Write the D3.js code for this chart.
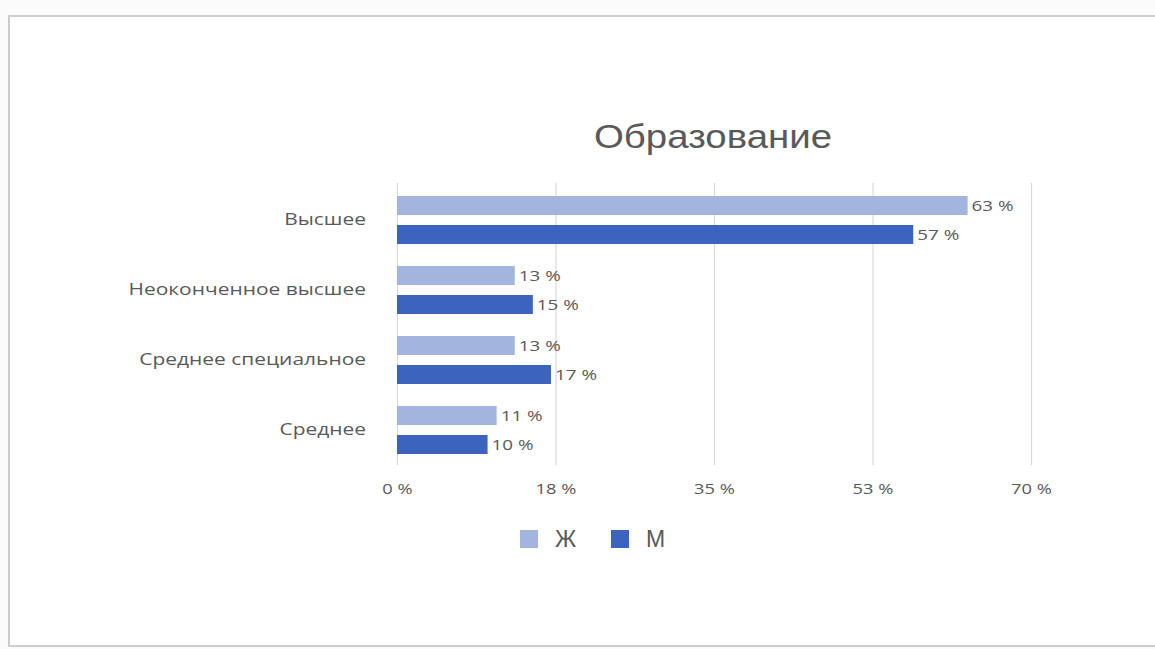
<!DOCTYPE html>
<html>
<head>
<meta charset="utf-8">
<script src="https://cdn.jsdelivr.net/npm/d3@7"></script>
<style>
  html, body { margin: 0; padding: 0; background: #ffffff; }
  svg { display: block; }
</style>
</head>
<body>
<svg id="chart" width="1155" height="649"></svg>
<script>
// Education level by gender, percent of respondents
const categories = ["Высшее", "Неоконченное высшее", "Среднее специальное", "Среднее"];
const seriesNames = ["Ж", "М"];
const womenValues = [63, 13, 13, 11];
const menValues = [57, 15, 17, 10];
const tickValues = [0, 17.5, 35, 52.5, 70];
const tickLabels = ["0 %", "18 %", "35 %", "53 %", "70 %"];
const chartTitle = "Образование";

const colors = { "Ж": "#a3b4de", "М": "#3c63bd" };
const textColor = "#595959";
const labelFont = "'Open Sans', sans-serif";
const wide = 1.22;      // horizontal stretch of tick labels
const wideCat = 1.27;   // horizontal stretch of category labels
const wideVal = 1.3;    // horizontal stretch of value labels

const svg = d3.select("#chart");

// outer frame
svg.append("rect")
  .attr("x", 0).attr("y", 0).attr("width", 1155).attr("height", 649)
  .attr("fill", "#fbfbfb");
svg.append("rect")
  .attr("x", 9).attr("y", 16).attr("width", 1160).attr("height", 630)
  .attr("fill", "#ffffff")
  .attr("stroke", "#cccccc").attr("stroke-width", 2);

const x = d3.scaleLinear().domain([0, 70]).range([397, 1031]);
const y = d3.scaleBand().domain(categories).range([185, 465]).padding(0);
const ySub = d3.scaleBand().domain(seriesNames).range([0, y.bandwidth()])
  .paddingInner(10 / 29).paddingOuter(0.379);

// title
svg.append("text")
  .attr("transform", "translate(713,148) scale(1.13,1)")
  .attr("text-anchor", "middle")
  .attr("font-family", "'Liberation Sans', Arial, sans-serif")
  .attr("font-size", 34)
  .attr("fill", textColor)
  .text(chartTitle);

// vertical gridlines + tick labels via axis
const xAxis = d3.axisBottom(x)
  .tickValues(tickValues)
  .tickFormat((d, i) => tickLabels[i])
  .tickSize(-(465 - 183))
  .tickPadding(18);

const gx = svg.append("g")
  .attr("transform", "translate(0,465)")
  .call(xAxis);
gx.select(".domain").remove();
gx.selectAll(".tick line").attr("stroke", "#d9d9d9").attr("stroke-width", 1.2);
gx.selectAll(".tick text")
  .attr("fill", textColor)
  .attr("font-family", labelFont)
  .attr("font-size", 15)
  .attr("transform", `scale(${wide},1)`);

// category labels
const pad = 31;
const gy = svg.append("g")
  .attr("transform", "translate(397,0)")
  .call(d3.axisLeft(y).tickSize(0).tickPadding(pad));
gy.select(".domain").remove();
gy.selectAll(".tick text")
  .attr("x", 0)
  .attr("transform", `translate(${-pad},0) scale(${wideCat},1)`)
  .attr("fill", textColor)
  .attr("font-family", labelFont)
  .attr("font-size", 16.5);

// bars
const rows = categories.map((c, i) => ({
  category: c,
  values: [
    { series: "Ж", value: womenValues[i] },
    { series: "М", value: menValues[i] }
  ]
}));

const groups = svg.append("g").selectAll("g")
  .data(rows).join("g")
  .attr("transform", d => `translate(0,${y(d.category)})`);

groups.selectAll("rect")
  .data(d => d.values).join("rect")
  .attr("x", x(0))
  .attr("y", d => ySub(d.series))
  .attr("width", d => x(d.value) - x(0))
  .attr("height", ySub.bandwidth())
  .attr("fill", d => colors[d.series]);

groups.selectAll("text")
  .data(d => d.values).join("text")
  .attr("transform", d => `translate(${x(d.value) + 4},${ySub(d.series) + ySub.bandwidth() / 2}) scale(${wideVal},1)`)
  .attr("dy", "0.35em")
  .attr("fill", textColor)
  .attr("font-family", labelFont)
  .attr("font-size", 14.5)
  .text(d => d.value + " %");

// legend
const legend = svg.append("g").attr("transform", "translate(520,530)");
const legendX = [0, 91];
seriesNames.forEach((s, i) => {
  legend.append("rect")
    .attr("x", legendX[i]).attr("y", 0)
    .attr("width", 18).attr("height", 18)
    .attr("fill", colors[s]);
  legend.append("text")
    .attr("x", legendX[i] + 35).attr("y", 9)
    .attr("dy", "0.36em")
    .attr("fill", textColor)
    .attr("font-family", "'Liberation Sans', Arial, sans-serif")
    .attr("font-size", 23)
    .text(s);
});
</script>
</body>
</html>
